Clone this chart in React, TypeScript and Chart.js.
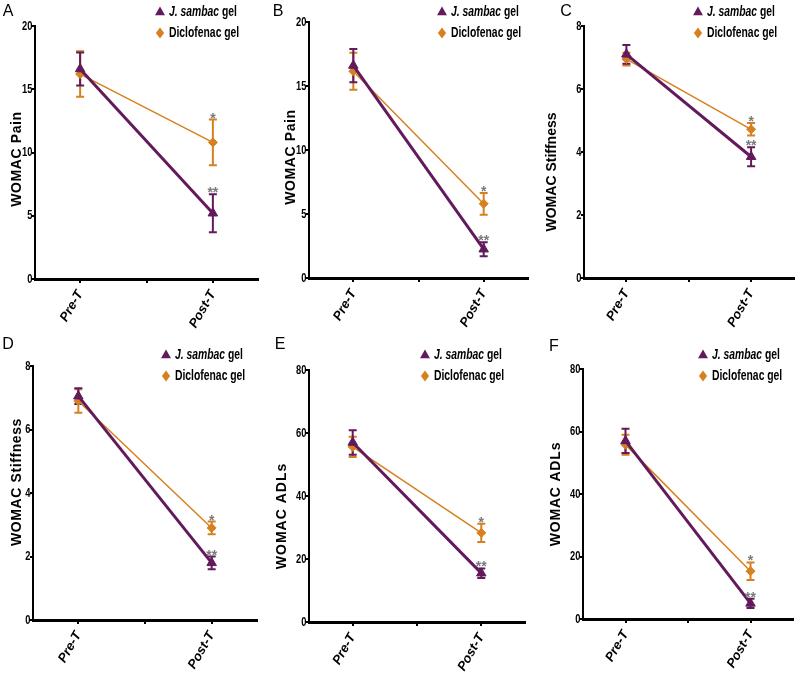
import React, { useEffect, useRef } from 'react';
import { Chart, registerables } from 'chart.js';
Chart.register(...registerables);

// ---------- data ----------
const categories = ['Pre-T', 'Post-T'];
const seriesNames = ['J. sambac', 'Diclofenac'];
const panelLetters = ['A', 'B', 'C', 'D', 'E', 'F'];
const yTitles = ['WOMAC Pain', 'WOMAC Pain', 'WOMAC Stiffness', 'WOMAC Stiffness', 'WOMAC ADLs', 'WOMAC ADLs'];
const yMax = [20, 20, 8, 8, 80, 80];
const yStep = [5, 5, 2, 2, 20, 20];
const jsambacMeans = [[16.6, 5.2], [16.6, 2.25], [7.1, 3.85], [7.05, 1.8], [57, 15.5], [57, 5]];
const jsambacErr = [[1.3, 1.5], [1.3, 0.55], [0.3, 0.3], [0.25, 0.2], [3.9, 1.5], [3.9, 1.5]];
const diclofenacMeans = [[16.2, 10.8], [16.15, 5.8], [6.95, 4.72], [6.9, 2.9], [55.6, 28.3], [55.8, 15.3]];
const diclofenacErr = [[1.8, 1.8], [1.45, 0.85], [0.2, 0.2], [0.37, 0.2], [3.2, 2.9], [3.2, 2.8]];
const jsambacMarks = ['', '**'];
const diclofenacMarks = ['', '*'];

// ---------- layout / style ----------
const PURPLE = '#621A5C';
const ORANGE = '#D68020';
const SANS = '"Liberation Sans", Arial, sans-serif';
const W = 800;
const H = 673;
const Y_W = 30;
const X_H = 50;

const panelLayouts = [
  { area: [35, 26, 258, 279], legend: [160, 12], letter: [8, 12], title: [17, 159], spacing: 0.6 },
  { area: [309, 22, 528, 278], legend: [442, 12], letter: [278, 12], title: [291, 157], spacing: 0.6 },
  { area: [584, 26, 799, 278], legend: [698, 12], letter: [566, 12], title: [552, 172], spacing: 0 },
  { area: [33, 366, 257, 620], legend: [166, 355], letter: [8, 345], title: [17, 482], spacing: 0.6 },
  { area: [309, 370, 525, 622], legend: [425, 355], letter: [280, 345], title: [282, 516], spacing: 1 },
  { area: [583, 369, 793, 619], legend: [703, 355], letter: [554, 347], title: [556, 494], spacing: 0.8 },
];

function drawTriangle(ctx: CanvasRenderingContext2D, x: number, y: number, r: number, color: string) {
  ctx.save();
  ctx.fillStyle = color;
  ctx.beginPath();
  ctx.moveTo(x, y - r);
  ctx.lineTo(x + r * 0.9, y + r * 0.6);
  ctx.lineTo(x - r * 0.9, y + r * 0.6);
  ctx.closePath();
  ctx.fill();
  ctx.restore();
}
function drawDiamond(ctx: CanvasRenderingContext2D, x: number, y: number, r: number, color: string) {
  ctx.save();
  ctx.fillStyle = color;
  ctx.beginPath();
  ctx.moveTo(x, y - r);
  ctx.lineTo(x + r * 0.75, y);
  ctx.lineTo(x, y + r);
  ctx.lineTo(x - r * 0.75, y);
  ctx.closePath();
  ctx.fill();
  ctx.restore();
}

function Panel({ idx }: { idx: number }) {
  const ref = useRef<HTMLCanvasElement | null>(null);
  useEffect(() => {
    if (!ref.current) return;
    const lay = panelLayouts[idx];
    const [l, t, r, b] = lay.area;
    const series = [
      { name: seriesNames[0], means: jsambacMeans[idx], errs: jsambacErr[idx], marks: jsambacMarks, color: PURPLE },
      { name: seriesNames[1], means: diclofenacMeans[idx], errs: diclofenacErr[idx], marks: diclofenacMarks, color: ORANGE },
    ];
    const errPlugin = {
      id: 'errbars',
      beforeDatasetsDraw(chart: any) {
        const ctx = chart.ctx as CanvasRenderingContext2D;
        const xs = chart.scales.x;
        const ys = chart.scales.y;
        for (let s = series.length - 1; s >= 0; s--) {
          const se = series[s];
          ctx.save();
          ctx.strokeStyle = se.color;
          ctx.lineWidth = 2;
          se.means.forEach((m, j) => {
            const x = xs.getPixelForValue(j);
            const y1 = ys.getPixelForValue(m + se.errs[j]);
            const y2 = ys.getPixelForValue(m - se.errs[j]);
            ctx.beginPath();
            ctx.moveTo(x, y1);
            ctx.lineTo(x, y2);
            ctx.moveTo(x - 4, y1);
            ctx.lineTo(x + 4, y1);
            ctx.moveTo(x - 4, y2);
            ctx.lineTo(x + 4, y2);
            ctx.stroke();
          });
          ctx.restore();
        }
      },
      afterDraw(chart: any) {
        const ctx = chart.ctx as CanvasRenderingContext2D;
        const xs = chart.scales.x;
        const ys = chart.scales.y;
        // y tick labels (condensed look)
        ctx.save();
        ctx.fillStyle = '#000';
        ctx.font = `bold 13px ${SANS}`;
        ctx.textAlign = 'right';
        ctx.textBaseline = 'middle';
        ys.ticks.forEach((tk: any) => {
          const y = ys.getPixelForValue(tk.value);
          ctx.save();
          ctx.translate(ys.right - 2.5, y);
          ctx.scale(0.72, 1);
          ctx.fillText(String(tk.value), 0, 0);
          ctx.restore();
        });
        ctx.restore();
        // significance marks
        ctx.save();
        ctx.fillStyle = '#7a7a7a';
        ctx.font = `bold 14px ${SANS}`;
        ctx.textAlign = 'center';
        ctx.textBaseline = 'alphabetic';
        series.forEach((se) => {
          se.means.forEach((m, j) => {
            const mk = se.marks[j];
            if (!mk) return;
            const x = xs.getPixelForValue(j);
            const y = ys.getPixelForValue(m + se.errs[j]);
            ctx.fillText(mk, x, y + 3);
          });
        });
        ctx.restore();
        // legend
        const [lx, ly] = lay.legend;
        drawTriangle(ctx, lx, ly, 5.5, PURPLE);
        drawDiamond(ctx, lx, ly + 21, 5.5, ORANGE);
        ctx.save();
        ctx.fillStyle = '#000';
        ctx.textBaseline = 'middle';
        ctx.textAlign = 'left';
        ctx.translate(lx + 9, ly);
        ctx.scale(0.74, 1);
        ctx.font = `italic bold 14px ${SANS}`;
        ctx.fillText(seriesNames[0], 0, 0);
        const w0 = ctx.measureText(seriesNames[0]).width;
        ctx.font = `bold 14px ${SANS}`;
        ctx.fillText(' gel', w0, 0);
        ctx.fillText(seriesNames[1] + ' gel', 0, 21);
        ctx.restore();
        // panel letter
        ctx.save();
        ctx.fillStyle = '#000';
        ctx.font = `16px ${SANS}`;
        ctx.textAlign = 'center';
        ctx.textBaseline = 'middle';
        ctx.fillText(panelLetters[idx], lay.letter[0], lay.letter[1]);
        ctx.restore();
        // y title
        ctx.save();
        ctx.fillStyle = '#000';
        ctx.font = `bold 14px ${SANS}`;
        (ctx as any).letterSpacing = `${lay.spacing}px`;
        ctx.translate(lay.title[0], lay.title[1]);
        ctx.rotate(-Math.PI / 2);
        ctx.textAlign = 'center';
        ctx.textBaseline = 'middle';
        ctx.fillText(yTitles[idx], 0, 0);
        ctx.restore();
      },
    };
    const chart = new Chart(ref.current, {
      type: 'line',
      data: {
        datasets: series.map((se, s) => ({
          label: se.name,
          data: se.means.map((m, j) => ({ x: j, y: m })),
          borderColor: se.color,
          backgroundColor: se.color,
          borderWidth: s === 0 ? 3 : 1.5,
          pointStyle: s === 0 ? 'triangle' : 'rectRot',
          pointRadius: s === 0 ? 5.5 : 4.5,
          pointBorderWidth: 1,
          pointBackgroundColor: se.color,
          pointBorderColor: se.color,
          clip: false as any,
        })),
      },
      options: {
        animation: false,
        responsive: false,
        layout: { padding: { left: l - Y_W, top: t, right: W - r, bottom: H - b - X_H } },
        plugins: { legend: { display: false }, tooltip: { enabled: false } },
        scales: {
          x: {
            type: 'linear',
            min: -0.34,
            max: 1.34,
            afterBuildTicks: (sc: any) => {
              sc.ticks = [{ value: 0 }, { value: 0.5 }, { value: 1 }];
            },
            afterFit: (sc: any) => {
              sc.height = X_H;
            },
            ticks: {
              autoSkip: false,
              minRotation: 60,
              maxRotation: 60,
              padding: 5,
              color: '#000',
              font: { family: SANS, size: 13, weight: 'bold', style: 'italic' },
              callback: (v: any) => (v === 0 ? categories[0] : v === 1 ? categories[1] : ''),
            },
            grid: { drawOnChartArea: false, drawTicks: true, tickLength: 4, color: '#000', lineWidth: 2 },
            border: { display: true, color: '#000', width: 3 },
          },
          y: {
            type: 'linear',
            min: 0,
            max: yMax[idx],
            afterFit: (sc: any) => {
              sc.width = Y_W;
            },
            ticks: {
              stepSize: yStep[idx],
              display: false,
            },
            grid: { drawOnChartArea: false, drawTicks: true, tickLength: 3, color: '#000', lineWidth: 2 },
            border: { display: true, color: '#000', width: 2 },
          },
        },
      },
      plugins: [errPlugin],
    } as any);
    return () => chart.destroy();
  }, [idx]);
  return (
    <canvas
      ref={ref}
      width={W}
      height={H}
      style={{ position: 'absolute', left: 0, top: 0, width: W, height: H }}
    />
  );
}

export default function App() {
  return (
    <div style={{ position: 'absolute', left: 0, top: 0, width: W, height: H, background: '#fff' }}>
      {panelLetters.map((_, i) => (
        <Panel key={i} idx={i} />
      ))}
    </div>
  );
}
